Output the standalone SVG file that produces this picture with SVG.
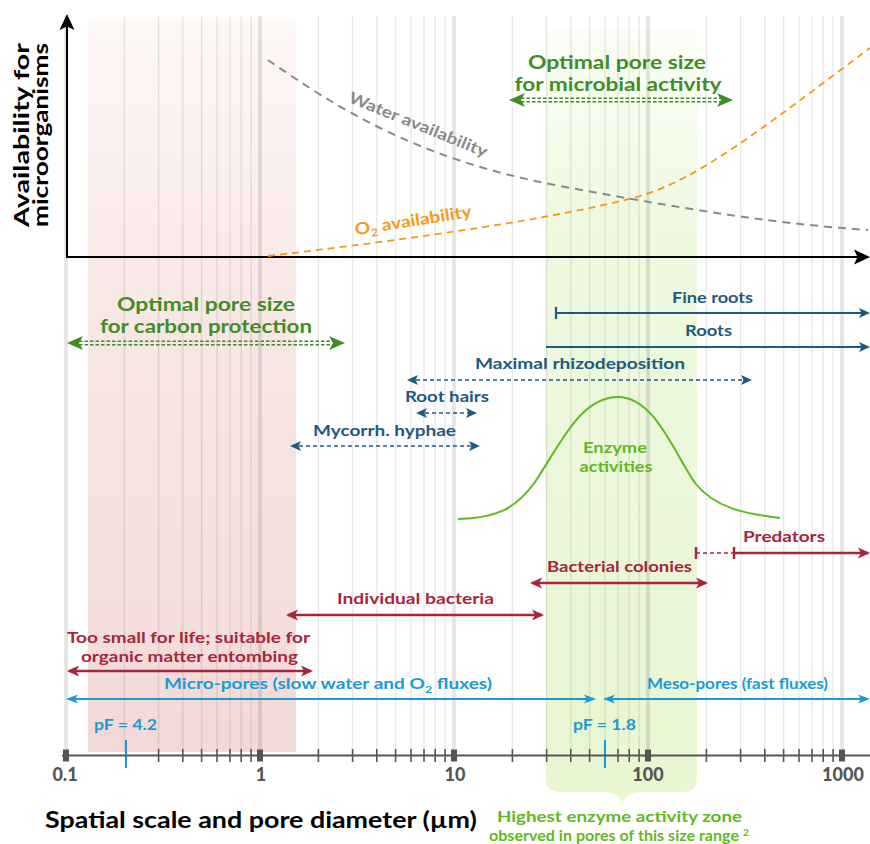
<svg xmlns="http://www.w3.org/2000/svg" width="870" height="844" viewBox="0 0 870 844">
<defs>
<linearGradient id="gPink" x1="0" y1="0" x2="0" y2="1"><stop offset="0" stop-color="#fdf7f6"/><stop offset="0.4" stop-color="#f8e7e5"/><stop offset="1" stop-color="#f3d9d6"/></linearGradient>
<linearGradient id="gGreen" x1="0" y1="0" x2="0" y2="1"><stop offset="0" stop-color="#fbfef7"/><stop offset="0.25" stop-color="#eef9e0"/><stop offset="1" stop-color="#e8f6d2"/></linearGradient>
<marker id="mBlue" markerUnits="userSpaceOnUse" orient="auto-start-reverse" viewBox="-12 -7 16 14" refX="0" refY="0" markerWidth="16" markerHeight="14" overflow="visible"><path d="M2,0 L-9,-5 L-6.5,0 L-9,5 Z" fill="#1d5a80"/></marker>
<marker id="mRed" markerUnits="userSpaceOnUse" orient="auto-start-reverse" viewBox="-12 -7 16 14" refX="0" refY="0" markerWidth="16" markerHeight="14" overflow="visible"><path d="M2,0 L-10,-5.5 L-7,0 L-10,5.5 Z" fill="#a6263d"/></marker>
<marker id="mCyan" markerUnits="userSpaceOnUse" orient="auto-start-reverse" viewBox="-12 -7 16 14" refX="0" refY="0" markerWidth="16" markerHeight="14" overflow="visible"><path d="M2,0 L-10,-4.5 L-7,0 L-10,4.5 Z" fill="#1c9ad4"/></marker>
</defs>
<style>
text{font-family:Lato,"Open Sans","Liberation Sans",sans-serif;font-weight:700}
.gmin{stroke:#000;stroke-opacity:.085;stroke-width:1.5;fill:none}
.gmaj{stroke:#000;stroke-opacity:.11;stroke-width:3.5;fill:none}
.blue{fill:#1d5a80;font-size:15.5px}
.red{fill:#a6263d;font-size:15.5px}
.cyan{fill:#1c9ad4;font-size:15.5px}
.dgreen{fill:#3d8e27;font-size:18.5px}
.lgreen{fill:#62b81f}
.lb{stroke:#1d5a80;stroke-width:2.2;fill:none}
.lbd{stroke:#1d5a80;stroke-width:1.5;stroke-dasharray:4 3;fill:none}
.lr{stroke:#a6263d;stroke-width:2.5;fill:none}
.lc{stroke:#1c9ad4;stroke-width:2;fill:none}
.dbl{stroke:#3d8e27;stroke-width:1.4;stroke-dasharray:3.5 2;fill:none}
.tick{stroke:#555;stroke-width:1.6;fill:none}
.num{fill:#555;font-size:18px;text-anchor:middle;font-weight:900}
</style>

<g id="bands">
<rect x="88" y="20" width="208" height="732" fill="url(#gPink)"/>
<path d="M546,30 L697,30 L697,778 Q697,792 683,792 L640,792 Q624,792 622,806 Q620,792 604,792 L560,792 Q546,792 546,778 Z" fill="url(#gGreen)"/>
</g>

<g id="grid">
<path class="gmin" d="M124.4,16V752M158.6,16V752M182.8,16V752M201.6,16V752M217,16V752M230,16V752M241.2,16V752M251.1,16V752M318.4,16V752M352.6,16V752M376.8,16V752M395.6,16V752M411,16V752M424,16V752M435.2,16V752M445.1,16V752M512.4,16V752M546.6,16V752M570.8,16V752M589.6,16V752M605,16V752M618,16V752M629.2,16V752M639.1,16V752M706.4,16V752M740.6,16V752M764.8,16V752M783.6,16V752M799,16V752M812,16V752M823.2,16V752M833.1,16V752"/>
<path class="gmaj" d="M66,16V752M260,16V752M454,16V752M648,16V752M842,16V752"/>
</g>

<g id="top-axes">
<path d="M67,257V24" stroke="#000" stroke-width="2"/>
<path d="M67,14 L59.5,30 L67,26.5 L74.5,30 Z" fill="#000"/>
<path d="M66,257H862" stroke="#000" stroke-width="2"/>
<path d="M870,257 L854,249.5 L857.5,257 L854,264.5 Z" fill="#000"/>
<text transform="translate(29,135) rotate(-90)" text-anchor="middle" font-size="20" font-weight="900" fill="#000" textLength="184" lengthAdjust="spacingAndGlyphs">Availability for</text>
<text transform="translate(48,135) rotate(-90)" text-anchor="middle" font-size="20" font-weight="900" fill="#000" textLength="184" lengthAdjust="spacingAndGlyphs">microorganisms</text>
</g>

<g id="water-curve">
<path d="M268,60 C340,110 420,160 560,186 C700,212 780,224 868,230" stroke="#8a8a8a" stroke-width="2" stroke-dasharray="8 6" fill="none"/>
<text transform="translate(418,125) rotate(22)" x="0" y="5" text-anchor="middle" font-size="16" font-weight="900" fill="#8a8a8a" textLength="148" lengthAdjust="spacingAndGlyphs">Water availability</text>
</g>

<g id="o2-curve">
<path d="M268,256 C420,238 560,218 640,196 C700,178 760,130 870,48" stroke="#f39a1a" stroke-width="1.8" stroke-dasharray="7 5" fill="none"/>
<text transform="translate(414,226) rotate(-9)" text-anchor="middle" font-size="16.5" font-weight="900" fill="#f39a1a" textLength="118" lengthAdjust="spacingAndGlyphs">O<tspan font-size="10.5" dy="4">2</tspan><tspan dy="-4"> availability</tspan></text>
</g>

<g id="opt-microbial">
<text class="dgreen" x="617" y="69" text-anchor="middle" textLength="178" lengthAdjust="spacingAndGlyphs">Optimal pore size</text>
<text class="dgreen" x="618" y="91" text-anchor="middle" textLength="207" lengthAdjust="spacingAndGlyphs">for microbial activity</text>
<path class="dbl" d="M521,98.3H721M521,101.7H721"/>
<path d="M509,100 L525,93 L521,100 L525,107 Z M733,100 L717,93 L721,100 L717,107 Z" fill="#3d8e27"/>
</g>

<g id="opt-carbon">
<text class="dgreen" x="206" y="311" text-anchor="middle" textLength="178" lengthAdjust="spacingAndGlyphs">Optimal pore size</text>
<text class="dgreen" x="206" y="333" text-anchor="middle" textLength="212" lengthAdjust="spacingAndGlyphs">for carbon protection</text>
<path class="dbl" d="M79,341.3H333M79,344.7H333"/>
<path d="M67,343 L83,336 L79,343 L83,350 Z M345,343 L329,336 L333,343 L329,350 Z" fill="#3d8e27"/>
</g>

<g id="connectors">
<path class="lb" d="M556,313H868" marker-end="url(#mBlue)"/>
<path class="lb" d="M556,307V319"/>
<path class="lb" d="M546,347H868" marker-end="url(#mBlue)"/>
<path class="lbd" d="M409,380H750" marker-start="url(#mBlue)" marker-end="url(#mBlue)"/>
<path class="lbd" d="M418,413H475" marker-start="url(#mBlue)" marker-end="url(#mBlue)"/>
<path class="lbd" d="M292,446H478" marker-start="url(#mBlue)" marker-end="url(#mBlue)"/>
<path d="M696,553H734" stroke="#a6263d" stroke-width="1.5" stroke-dasharray="4 3" fill="none"/>
<path class="lr" d="M696,547V559M734,547V559"/>
<path class="lr" d="M734,553H868" marker-end="url(#mRed)"/>
<path class="lr" d="M532,583H706" marker-start="url(#mRed)" marker-end="url(#mRed)"/>
<path class="lr" d="M288,615H542" marker-start="url(#mRed)" marker-end="url(#mRed)"/>
<path class="lr" d="M69,671H311" marker-start="url(#mRed)" marker-end="url(#mRed)"/>
<path class="lc" d="M68,699H594" marker-start="url(#mCyan)" marker-end="url(#mCyan)"/>
<path class="lc" d="M605,699H868" marker-start="url(#mCyan)" marker-end="url(#mCyan)"/>
</g>

<g id="fine-roots"><text class="blue" x="672" y="303" textLength="81" lengthAdjust="spacingAndGlyphs">Fine roots</text></g>
<g id="roots"><text class="blue" x="685" y="336" textLength="47" lengthAdjust="spacingAndGlyphs">Roots</text></g>
<g id="rhizodeposition"><text class="blue" x="475" y="369" textLength="210" lengthAdjust="spacingAndGlyphs">Maximal rhizodeposition</text></g>
<g id="root-hairs"><text class="blue" x="405" y="402" textLength="84" lengthAdjust="spacingAndGlyphs">Root hairs</text></g>
<g id="mycorrh"><text class="blue" x="313" y="436" textLength="143" lengthAdjust="spacingAndGlyphs">Mycorrh. hyphae</text></g>

<g id="enzyme">
<path d="M458,519 C495,518 515,510 535,482 C560,445 580,397 618,397 C655,397 675,455 695,483 C715,508 745,514 780,518" stroke="#62b81f" stroke-width="2" fill="none"/>
<text class="lgreen" x="615" y="453" text-anchor="middle" font-size="15.5" textLength="64" lengthAdjust="spacingAndGlyphs">Enzyme</text>
<text class="lgreen" x="616" y="472" text-anchor="middle" font-size="15.5" textLength="73" lengthAdjust="spacingAndGlyphs">activities</text>
</g>

<g id="predators"><text class="red" x="743" y="542" textLength="82" lengthAdjust="spacingAndGlyphs">Predators</text></g>
<g id="colonies"><text class="red" x="547" y="572" textLength="145" lengthAdjust="spacingAndGlyphs">Bacterial colonies</text></g>
<g id="bacteria"><text class="red" x="337" y="604" textLength="157" lengthAdjust="spacingAndGlyphs">Individual bacteria</text></g>
<g id="too-small">
<text class="red" x="67" y="643" textLength="243" lengthAdjust="spacingAndGlyphs">Too small for life; suitable for</text>
<text class="red" x="81" y="662" textLength="217" lengthAdjust="spacingAndGlyphs">organic matter entombing</text>
</g>

<g id="micro-pores"><text class="cyan" x="164" y="689" textLength="328" lengthAdjust="spacingAndGlyphs">Micro-pores (slow water and O<tspan font-size="10" dy="4">2</tspan><tspan dy="-4"> fluxes)</tspan></text></g>
<g id="meso-pores"><text class="cyan" x="647" y="689" textLength="181" lengthAdjust="spacingAndGlyphs">Meso-pores (fast fluxes)</text></g>
<g id="pf42">
<text class="cyan" x="94" y="730" textLength="63" lengthAdjust="spacingAndGlyphs">pF = 4.2</text>
<path d="M126,740V768" stroke="#1c9ad4" stroke-width="2"/>
</g>
<g id="pf18">
<text class="cyan" x="573" y="730" textLength="63" lengthAdjust="spacingAndGlyphs">pF = 1.8</text>
<path d="M605,740V768" stroke="#1c9ad4" stroke-width="2"/>
</g>

<g id="bottom-axis">
<path d="M62,755.5H870" stroke="#555" stroke-width="2"/>
<path class="tick" d="M158.6,749V762M182.8,749V762M201.6,749V762M217,749V762M230,749V762M241.2,749V762M251.1,749V762M318.4,749V762M352.6,749V762M376.8,749V762M395.6,749V762M411,749V762M424,749V762M435.2,749V762M445.1,749V762M512.4,749V762M546.6,749V762M570.8,749V762M589.6,749V762M618,749V762M629.2,749V762M639.1,749V762M706.4,749V762M740.6,749V762M764.8,749V762M783.6,749V762M799,749V762M812,749V762M823.2,749V762M833.1,749V762"/>
<g fill="#555">
<rect x="63" y="749.5" width="6" height="12"/>
<rect x="257" y="749.5" width="6" height="12"/>
<rect x="451" y="749.5" width="6" height="12"/>
<rect x="645" y="749.5" width="6" height="12"/>
<rect x="839" y="749.5" width="6" height="12"/>
</g>
<text class="num" x="65" y="781">0.1</text>
<text class="num" x="261" y="781">1</text>
<text class="num" x="455" y="781">10</text>
<text class="num" x="648" y="781">100</text>
<text class="num" x="843" y="781">1000</text>
<text x="45" y="828" font-size="22" font-weight="900" fill="#000" textLength="432" lengthAdjust="spacingAndGlyphs">Spatial scale and pore diameter (µm)</text>
</g>

<g id="enzyme-zone">
<text class="lgreen" x="497" y="822" font-size="16" textLength="245" lengthAdjust="spacingAndGlyphs">Highest enzyme activity zone</text>
<text class="lgreen" x="489" y="841" font-size="15" font-weight="400" textLength="250" lengthAdjust="spacingAndGlyphs">observed in pores of this size range</text>
<text class="lgreen" x="743" y="836" font-size="10" font-weight="400">2</text>
</g>
</svg>
